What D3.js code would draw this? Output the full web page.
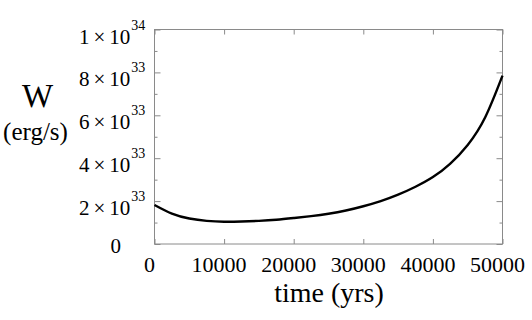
<!DOCTYPE html>
<html>
<head>
  <meta charset="utf-8">
  <title>W vs time</title>
  <style>
   html, body { margin: 0; padding: 0; background: white; }
   text { font-family: "Liberation Serif", "Times New Roman", serif; fill: black; }
   .frame { fill: none; stroke: #8a8a8a; stroke-width: 1; }
   .tick line { stroke: #8a8a8a; }
   .curve { fill: none; stroke: black; stroke-width: 2.4px; }
  </style>
</head>
<body>
<div id="chart"></div>
<script src="https://d3js.org/d3.v7.min.js"></script>
<script>
// time in years, W in units of 1e33 erg/s
var times = [0, 2500, 5000, 7500, 10000, 12500, 15000, 17500, 20000, 22500, 25000,
             27500, 30000, 32500, 35000, 37500, 40000, 42500, 45000, 47500, 50000];
var wValues = [1.82, 1.42, 1.19, 1.08, 1.04, 1.05, 1.08, 1.13, 1.21, 1.30, 1.41,
               1.56, 1.76, 2.00, 2.30, 2.67, 3.12, 3.75, 4.62, 5.90, 7.85];

var xTicks = [0, 10000, 20000, 30000, 40000, 50000];
var yTicks = [0, 2, 4, 6, 8, 10];
var yMinor = [1, 3, 5, 7, 9];
var yMantissas = ["0", "2", "4", "6", "8", "1"];
var yExponents = [null, "33", "33", "33", "33", "34"];

var width = 532, height = 320;
var plotLeft = 154.5, plotRight = 502.5, plotTop = 29.5, plotBottom = 244;

var svg = d3.select("#chart").append("svg")
  .attr("width", width)
  .attr("height", height);

var x = d3.scaleLinear().domain([0, 50000]).range([plotLeft, plotRight]);
var y = d3.scaleLinear().domain([0, 10]).range([plotBottom, plotTop]);

// ticks pointing inward on all four sides
function addAxis(axis, tx, ty) {
  var g = svg.append("g")
    .attr("transform", "translate(" + tx + "," + ty + ")")
    .call(axis);
  g.select(".domain").remove();
  g.selectAll("text").remove();
}
addAxis(d3.axisBottom(x).tickValues(xTicks).tickSize(-5), 0, plotBottom);
addAxis(d3.axisTop(x).tickValues(xTicks).tickSize(-5), 0, plotTop);
addAxis(d3.axisLeft(y).tickValues(yTicks).tickSize(-6), plotLeft, 0);
addAxis(d3.axisRight(y).tickValues(yTicks).tickSize(-6), plotRight, 0);
addAxis(d3.axisLeft(y).tickValues(yMinor).tickSize(-3), plotLeft, 0);
addAxis(d3.axisRight(y).tickValues(yMinor).tickSize(-3), plotRight, 0);

svg.append("rect")
  .attr("class", "frame")
  .attr("x", plotLeft)
  .attr("y", plotTop)
  .attr("width", plotRight - plotLeft)
  .attr("height", plotBottom - plotTop);

// the curve
var line = d3.line()
  .x(function(d, i) { return x(times[i]); })
  .y(function(d) { return y(d); })
  .curve(d3.curveNatural);

svg.append("path")
  .attr("class", "curve")
  .attr("d", line(wValues));

// x tick labels
svg.selectAll(".xlab")
  .data(xTicks)
  .enter()
  .append("text")
  .attr("x", function(d) { return x(d) - 5; })
  .attr("y", plotBottom + 27.5)
  .attr("text-anchor", "middle")
  .style("font-size", "22px")
  .text(function(d) { return d; });

// y tick labels: mantissa x 10 with superscript exponent
yTicks.forEach(function(v, i) {
  if (yExponents[i] === null) {
    svg.append("text")
      .attr("x", 121).attr("y", y(v) + 9)
      .attr("text-anchor", "end")
      .style("font-size", "21px")
      .text(yMantissas[i]);
    return;
  }
  var t = svg.append("text")
    .attr("x", 79).attr("y", y(v) + 14)
    .style("font-size", "21px");
  t.append("tspan").text(yMantissas[i]);
  t.append("tspan").attr("dx", 4).text("\u00d7");
  t.append("tspan").attr("dx", 4).text("10");
  t.append("tspan")
    .attr("dx", 1)
    .attr("dy", -14)
    .style("font-size", "14px")
    .text(yExponents[i]);
});

// axis titles
svg.append("text")
  .attr("x", 37.5)
  .attr("y", 106.5)
  .attr("text-anchor", "middle")
  .style("font-size", "33px")
  .text("W");

svg.append("text")
  .attr("x", 35.5)
  .attr("y", 140)
  .attr("text-anchor", "middle")
  .style("font-size", "25px")
  .text("(erg/s)");

svg.append("text")
  .attr("x", 329)
  .attr("y", 301.5)
  .attr("text-anchor", "middle")
  .style("font-size", "28px")
  .text("time (yrs)");
</script>
</body>
</html>
